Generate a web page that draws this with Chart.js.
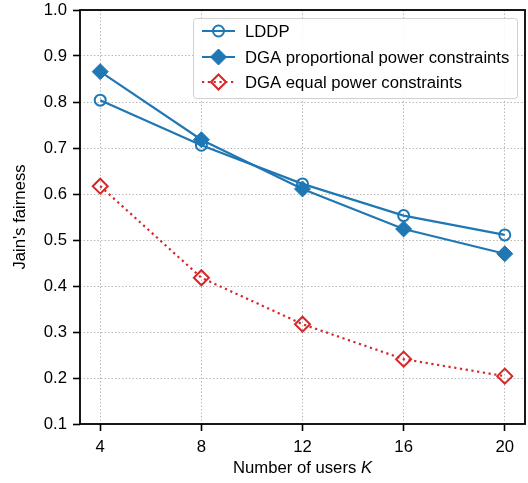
<!DOCTYPE html>
<html><head><meta charset="utf-8">
<script src="https://cdn.jsdelivr.net/npm/chart.js@4/dist/chart.umd.min.js"></script>
<style>html,body{margin:0;padding:0;background:#fff}#wrap{width:528px;height:483px;position:relative}</style>
</head><body><div id="wrap"><canvas id="c" width="528" height="483"></canvas></div>
<script>
const users = [4, 8, 12, 16, 20];
const lddp = [0.804, 0.706, 0.622, 0.553, 0.511];
const dgaProportional = [0.866, 0.718, 0.611, 0.524, 0.470];
const dgaEqual = [0.617, 0.418, 0.317, 0.241, 0.204];
const xTicks = [4, 8, 12, 16, 20];
const yTicks = [0.1, 0.2, 0.3, 0.4, 0.5, 0.6, 0.7, 0.8, 0.9, 1.0];
const seriesNames = ['LDDP', 'DGA proportional power constraints', 'DGA equal power constraints'];

const BLUE = '#1f77b4', RED = '#d62728';
const FONT = "'Liberation Sans', Arial, sans-serif";
const FS = 16.7;
const pts = arr => users.map((u, i) => ({x: u, y: arr[i]}));

const datasets = [
  {label: seriesNames[0], data: pts(lddp), borderColor: BLUE, backgroundColor: 'rgba(0,0,0,0)',
   borderWidth: 2.2, pointStyle: 'circle', pointRadius: 5.5, pointBorderWidth: 2, pointBorderColor: BLUE,
   pointBackgroundColor: 'rgba(0,0,0,0)', order: 1},
  {label: seriesNames[1], data: pts(dgaProportional), borderColor: BLUE, backgroundColor: BLUE,
   borderWidth: 2.2, pointStyle: 'rectRot', pointRadius: 8, pointBorderWidth: 1, pointBorderColor: BLUE,
   pointBackgroundColor: BLUE, order: 0},
  {label: seriesNames[2], data: pts(dgaEqual), borderColor: RED, backgroundColor: 'rgba(0,0,0,0)',
   borderWidth: 2.2, borderDash: [2.2, 3.6], borderCapStyle: 'butt', pointStyle: 'rectRot', pointRadius: 7.5,
   pointBorderWidth: 2, pointBorderColor: RED, pointBackgroundColor: 'rgba(0,0,0,0)', order: 2}
];

const frameAndLabels = {
  id: 'frameAndLabels',
  afterDraw(chart) {
    const ctx = chart.ctx, a = chart.chartArea;
    ctx.save();
    ctx.strokeStyle = '#000'; ctx.lineWidth = 1.8; ctx.setLineDash([]);
    ctx.strokeRect(a.left, a.top, a.right - a.left, a.bottom - a.top);
    ctx.fillStyle = '#000'; ctx.textBaseline = 'middle';
    const t1 = 'Number of users ', t2 = 'K';
    ctx.font = FS + 'px ' + FONT; const w1 = ctx.measureText(t1).width;
    ctx.font = 'italic ' + FS + 'px ' + FONT; const w2 = ctx.measureText(t2).width;
    const cx = (a.left + a.right) / 2, xs = cx - (w1 + w2) / 2;
    ctx.textAlign = 'left';
    ctx.font = FS + 'px ' + FONT; ctx.fillText(t1, xs, 468);
    ctx.font = 'italic ' + FS + 'px ' + FONT; ctx.fillText(t2, xs + w1, 468);
    ctx.save(); ctx.translate(20, (a.top + a.bottom) / 2); ctx.rotate(-Math.PI / 2);
    ctx.font = FS + 'px ' + FONT; ctx.textAlign = 'center'; ctx.fillText("Jain's fairness", 0, 0);
    ctx.restore();
    const lx = 193, ly = 18, lw = 324, lh = 80;
    ctx.beginPath();
    if (ctx.roundRect) ctx.roundRect(lx + 0.5, ly + 0.5, lw, lh, 3); else ctx.rect(lx + 0.5, ly + 0.5, lw, lh);
    ctx.fillStyle = 'rgba(255,255,255,0.85)'; ctx.fill();
    ctx.strokeStyle = '#d0d0d0'; ctx.lineWidth = 1; ctx.stroke();
    const rows = [31, 57, 82];
    chart.data.datasets.forEach((ds, i) => {
      const y = rows[i];
      ctx.strokeStyle = ds.borderColor; ctx.lineWidth = ds.borderWidth;
      ctx.setLineDash(ds.borderDash || []); ctx.lineCap = 'butt';
      ctx.beginPath(); ctx.moveTo(202, y); ctx.lineTo(235, y); ctx.stroke();
      ctx.setLineDash([]);
      ctx.lineWidth = ds.pointBorderWidth; ctx.strokeStyle = ds.pointBorderColor; ctx.fillStyle = ds.pointBackgroundColor;
      Chart.helpers.drawPoint(ctx, {pointStyle: ds.pointStyle, radius: ds.pointRadius, borderWidth: ds.pointBorderWidth, rotation: 0}, 218.5, y);
      ctx.fillStyle = '#000'; ctx.font = FS + 'px ' + FONT; ctx.textAlign = 'left'; ctx.textBaseline = 'middle';
      ctx.fillText(ds.label, 245, y + 1);
    });
    ctx.restore();
  }
};

new Chart(document.getElementById('c'), {
  type: 'line',
  data: {datasets},
  options: {
    responsive: false, animation: false, devicePixelRatio: 1,
    layout: {autoPadding: false, padding: {top: 10, right: 3, left: 0, bottom: 0}},
    plugins: {legend: {display: false}, tooltip: {enabled: false}},
    scales: {
      x: {
        type: 'linear', min: 3.2, max: 20.8,
        afterBuildTicks: s => { s.ticks = xTicks.map(v => ({value: v})); },
        afterFit: s => { s.height = 59; s.paddingLeft = 0; s.paddingRight = 0; },
        grid: {color: '#b8b8b8', lineWidth: 1, drawTicks: true, tickLength: 7, tickColor: '#000', tickWidth: 1.6, tickBorderDash: []},
        border: {display: false, dash: [1.5, 2]},
        ticks: {font: {family: FONT, size: FS}, color: '#000', padding: 6, maxRotation: 0,
                callback: v => String(v)}
      },
      y: {
        type: 'linear', min: 0.1, max: 1.0,
        afterBuildTicks: s => { s.ticks = yTicks.map(v => ({value: v})); },
        afterFit: s => { s.width = 80; s.paddingTop = 0; s.paddingBottom = 0; },
        grid: {color: '#b8b8b8', lineWidth: 1, drawTicks: true, tickLength: 7, tickColor: '#000', tickWidth: 1.6, tickBorderDash: []},
        border: {display: false, dash: [1.5, 2]},
        ticks: {font: {family: FONT, size: FS}, color: '#000', padding: 6,
                callback: v => Number(v).toFixed(1)}
      }
    }
  },
  plugins: [frameAndLabels]
});
</script></body></html>
